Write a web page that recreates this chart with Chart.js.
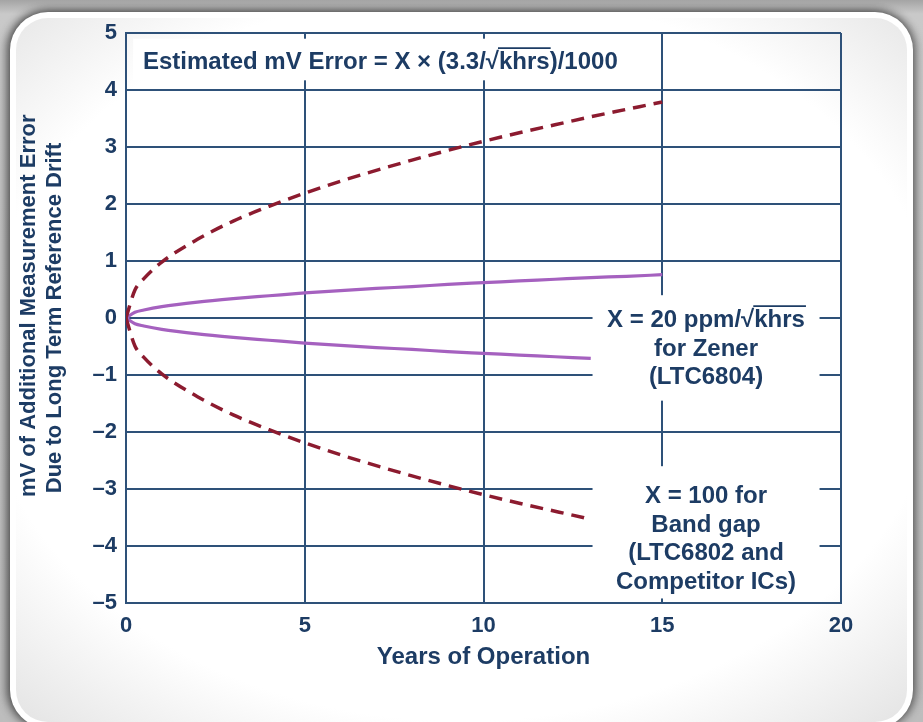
<!DOCTYPE html>
<html>
<head>
<meta charset="utf-8">
<script src="https://cdn.jsdelivr.net/npm/chart.js@4/dist/chart.umd.min.js"></script>
<style>
  html, body { margin: 0; padding: 0; width: 923px; height: 722px; overflow: hidden; }
  body {
    background: linear-gradient(180deg, #a4a4a4 0px, #c9c9c9 14px, #bdbdbd 100%);
    position: relative;
  }
  #card {
    position: absolute; left: 10px; top: 12px; width: 903px; height: 716px;
    border-radius: 38px; background: #ffffff;
    box-shadow: -4px 0 10px rgba(0,0,0,0.45), 0 -2px 8px rgba(0,0,0,0.25), 4px 0 8px rgba(0,0,0,0.3);
  }
  #inner {
    position: absolute; left: 6px; top: 6px; right: 6px; bottom: 6px;
    border-radius: 32px;
    background: radial-gradient(ellipse 75% 72% at 50% 48%, #ffffff 72%, #e2e2e2 100%);
  }
  #wrap { position: absolute; left: 0; top: 0; width: 923px; height: 722px; }
</style>
</head>
<body>
<div id="card"><div id="inner"></div></div>
<div id="wrap"><canvas id="chart" width="923" height="722"></canvas></div>
<script>
// Years of operation and drift error (mV) for each reference type
const years = [0, 0.25, 0.5, 1, 2, 3, 4, 5, 6, 7, 8, 9, 10, 11, 12, 13, 14, 15];
const bandgapUpper = [0, 0.49, 0.69, 0.98, 1.38, 1.70, 1.96, 2.19, 2.40, 2.59, 2.77, 2.94, 3.10, 3.25, 3.39, 3.53, 3.66, 3.79];
const bandgapLower = [0, -0.49, -0.69, -0.98, -1.38, -1.70, -1.96, -2.19, -2.40, -2.59, -2.77, -2.94, -3.10, -3.25, -3.39, -3.53];
const zenerUpper = [0, 0.10, 0.14, 0.20, 0.28, 0.34, 0.39, 0.44, 0.48, 0.52, 0.55, 0.59, 0.62, 0.65, 0.68, 0.71, 0.73, 0.76];
const zenerLower = [0, -0.10, -0.14, -0.20, -0.28, -0.34, -0.39, -0.44, -0.48, -0.52, -0.55, -0.59, -0.62, -0.65, -0.68, -0.71];

const xTicks = [0, 5, 10, 15, 20];
const yTicks = [-5, -4, -3, -2, -1, 0, 1, 2, 3, 4, 5];

const xTitle = 'Years of Operation';
// leading spaces nudge the first line slightly toward the top
const yTitle = ['    mV of Additional Measurement Error', 'Due to Long Term Reference Drift'];
const formulaParts = [
  { t: 'Estimated mV Error = X \u00d7 (3.3/' }, { t: '\u221a' }, { t: 'khrs', over: true }, { t: ')/1000' }
];
const zenerNote = [
  [{ t: 'X = 20 ppm/' }, { t: '\u221a' }, { t: 'khrs', over: true }],
  [{ t: 'for Zener' }],
  [{ t: '(LTC6804)' }]
];
const bandgapNote = [
  [{ t: 'X = 100 for' }],
  [{ t: 'Band gap' }],
  [{ t: '(LTC6802 and' }],
  [{ t: 'Competitor ICs)' }]
];

const INK = '#1d3c64';
const GRID = '#2e5179';
const FONT = '"Liberation Sans", Arial, Helvetica, sans-serif';
const NOTE_SIZE = 24;

const pts = (vals) => vals.map((v, i) => ({ x: years[i], y: v }));
const minus = (v) => (v < 0 ? '\u2013' + Math.abs(v) : String(v));

// draws a line of text pieces; pieces flagged "over" get the radical's vinculum
function drawPieces(ctx, pieces, x, baseline, align, size) {
  const widths = pieces.map(p => ctx.measureText(p.t).width);
  const total = widths.reduce((a, b) => a + b, 0);
  let cx = align === 'center' ? x - total / 2 : x;
  ctx.textAlign = 'left';
  ctx.textBaseline = 'alphabetic';
  pieces.forEach((p, i) => {
    ctx.fillText(p.t, cx, baseline);
    if (p.over) {
      ctx.save();
      ctx.strokeStyle = ctx.fillStyle;
      ctx.lineWidth = 1.8;
      ctx.beginPath();
      ctx.moveTo(cx - 1, baseline - size * 0.87);
      ctx.lineTo(cx + widths[i] + 1, baseline - size * 0.87);
      ctx.stroke();
      ctx.restore();
    }
    cx += widths[i];
  });
}

const annotations = {
  id: 'annotations',
  beforeDatasetsDraw(chart) {
    const { ctx, scales: { x, y } } = chart;
    ctx.save();
    ctx.fillStyle = '#ffffff';
    // panels behind the formula and the two notes
    ctx.fillRect(x.getPixelForValue(0.2), y.getPixelForValue(4.9), x.getPixelForValue(14.8) - x.getPixelForValue(0.2), y.getPixelForValue(4.17) - y.getPixelForValue(4.9));
    ctx.fillRect(x.getPixelForValue(13.05), y.getPixelForValue(0.4), x.getPixelForValue(19.4) - x.getPixelForValue(13.05), y.getPixelForValue(-1.45) - y.getPixelForValue(0.4));
    ctx.fillRect(x.getPixelForValue(13.05), y.getPixelForValue(-2.6), x.getPixelForValue(19.4) - x.getPixelForValue(13.05), y.getPixelForValue(-4.92) - y.getPixelForValue(-2.6));
    ctx.restore();
  },
  afterDatasetsDraw(chart) {
    const { ctx } = chart;
    ctx.save();
    ctx.fillStyle = INK;
    ctx.font = 'bold ' + NOTE_SIZE + 'px ' + FONT;
    drawPieces(ctx, formulaParts, 143, 69, 'left', NOTE_SIZE);
    const cx = 706;
    zenerNote.forEach((ln, i) => drawPieces(ctx, ln, cx, 327 + i * 28.5, 'center', NOTE_SIZE));
    bandgapNote.forEach((ln, i) => drawPieces(ctx, ln, cx, 503 + i * 28.5, 'center', NOTE_SIZE));
    ctx.restore();
  }
};

new Chart(document.getElementById('chart'), {
  type: 'line',
  data: {
    datasets: [
      { data: pts(bandgapUpper), borderColor: '#8c1b2f', borderWidth: 3.5, borderDash: [13, 8] },
      { data: pts(bandgapLower), borderColor: '#8c1b2f', borderWidth: 3.5, borderDash: [13, 8] },
      { data: pts(zenerUpper), borderColor: '#a561bf', borderWidth: 3.2 },
      { data: pts(zenerLower), borderColor: '#a561bf', borderWidth: 3.2 }
    ]
  },
  options: {
    responsive: false,
    animation: false,
    events: [],
    layout: { padding: { left: 10, right: 82, top: 33, bottom: 50 } },
    elements: {
      point: { radius: 0 },
      line: { cubicInterpolationMode: 'monotone', fill: false, borderCapStyle: 'butt' }
    },
    plugins: { legend: { display: false }, tooltip: { enabled: false } },
    scales: {
      x: {
        type: 'linear', min: 0, max: 20,
        afterBuildTicks: (s) => { s.ticks = xTicks.map(v => ({ value: v })); },
        afterFit: (s) => { s.height = 69; },
        ticks: { color: INK, font: { family: FONT, size: 22, weight: 'bold' }, padding: 10, maxRotation: 0 },
        grid: { color: GRID, lineWidth: 2, drawTicks: false },
        border: { color: GRID, width: 2 },
        title: { display: true, text: xTitle, color: INK, font: { family: FONT, size: 24, weight: 'bold' }, padding: { top: 0, bottom: 0 } }
      },
      y: {
        type: 'linear', min: -5, max: 5,
        afterBuildTicks: (s) => { s.ticks = yTicks.map(v => ({ value: v })); },
        afterFit: (s) => { s.width = 116; },
        ticks: { color: INK, font: { family: FONT, size: 22, weight: 'bold' }, padding: 9, callback: (v) => minus(v) },
        grid: { color: GRID, lineWidth: 2, drawTicks: false },
        border: { color: GRID, width: 2 },
        title: { display: true, text: yTitle, color: INK, font: { family: FONT, size: 22, weight: 'bold', lineHeight: 1.18 }, padding: { top: 6, bottom: 0 } }
      }
    }
  },
  plugins: [annotations]
});
</script>
</body>
</html>
